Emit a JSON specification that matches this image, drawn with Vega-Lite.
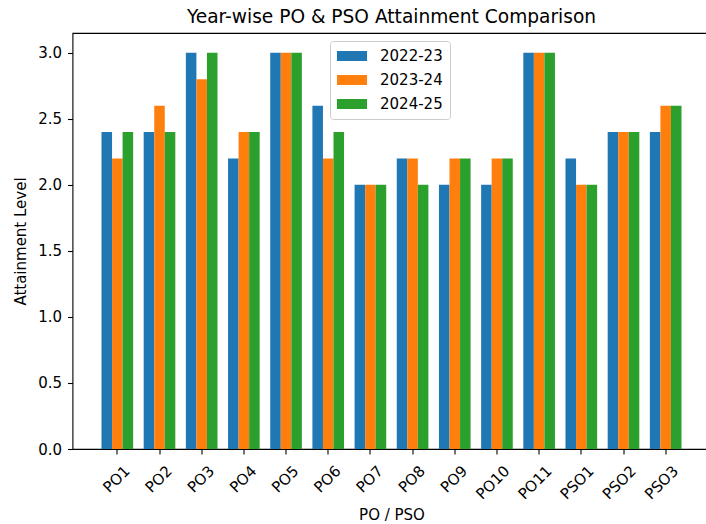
{
  "$schema": "https://vega.github.io/schema/vega-lite/v6.json",
  "autosize": {"type": "none"},
  "padding": {"left": 72.5, "top": 33, "right": 0, "bottom": 75},
  "width": 638,
  "height": 416,
  "background": "white",
  "title": {
    "text": "Year-wise PO & PSO Attainment Comparison",
    "font": "DejaVu Sans",
    "fontSize": 18.6,
    "fontWeight": "normal",
    "color": "black",
    "anchor": "middle",
    "baseline": "alphabetic",
    "offset": 8.5,
    "dy": 17
  },
  "config": {
    "view": {"stroke": "black", "strokeWidth": 1.1},
    "axis": {
      "labelFont": "DejaVu Sans",
      "titleFont": "DejaVu Sans",
      "labelFontSize": 15,
      "titleFontSize": 15,
      "titleFontWeight": "normal",
      "labelColor": "black",
      "titleColor": "black",
      "tickColor": "black",
      "tickSize": 5,
      "tickWidth": 1.1,
      "domain": false,
      "grid": false
    },
    "legend": {
      "labelFont": "DejaVu Sans",
      "labelFontSize": 15,
      "labelColor": "black"
    }
  },
  "data": {
    "values": [
      {"po": "PO1", "year": "2022-23", "value": 2.4},
      {"po": "PO1", "year": "2023-24", "value": 2.2},
      {"po": "PO1", "year": "2024-25", "value": 2.4},
      {"po": "PO2", "year": "2022-23", "value": 2.4},
      {"po": "PO2", "year": "2023-24", "value": 2.6},
      {"po": "PO2", "year": "2024-25", "value": 2.4},
      {"po": "PO3", "year": "2022-23", "value": 3.0},
      {"po": "PO3", "year": "2023-24", "value": 2.8},
      {"po": "PO3", "year": "2024-25", "value": 3.0},
      {"po": "PO4", "year": "2022-23", "value": 2.2},
      {"po": "PO4", "year": "2023-24", "value": 2.4},
      {"po": "PO4", "year": "2024-25", "value": 2.4},
      {"po": "PO5", "year": "2022-23", "value": 3.0},
      {"po": "PO5", "year": "2023-24", "value": 3.0},
      {"po": "PO5", "year": "2024-25", "value": 3.0},
      {"po": "PO6", "year": "2022-23", "value": 2.6},
      {"po": "PO6", "year": "2023-24", "value": 2.2},
      {"po": "PO6", "year": "2024-25", "value": 2.4},
      {"po": "PO7", "year": "2022-23", "value": 2.0},
      {"po": "PO7", "year": "2023-24", "value": 2.0},
      {"po": "PO7", "year": "2024-25", "value": 2.0},
      {"po": "PO8", "year": "2022-23", "value": 2.2},
      {"po": "PO8", "year": "2023-24", "value": 2.2},
      {"po": "PO8", "year": "2024-25", "value": 2.0},
      {"po": "PO9", "year": "2022-23", "value": 2.0},
      {"po": "PO9", "year": "2023-24", "value": 2.2},
      {"po": "PO9", "year": "2024-25", "value": 2.2},
      {"po": "PO10", "year": "2022-23", "value": 2.0},
      {"po": "PO10", "year": "2023-24", "value": 2.2},
      {"po": "PO10", "year": "2024-25", "value": 2.2},
      {"po": "PO11", "year": "2022-23", "value": 3.0},
      {"po": "PO11", "year": "2023-24", "value": 3.0},
      {"po": "PO11", "year": "2024-25", "value": 3.0},
      {"po": "PSO1", "year": "2022-23", "value": 2.2},
      {"po": "PSO1", "year": "2023-24", "value": 2.0},
      {"po": "PSO1", "year": "2024-25", "value": 2.0},
      {"po": "PSO2", "year": "2022-23", "value": 2.4},
      {"po": "PSO2", "year": "2023-24", "value": 2.4},
      {"po": "PSO2", "year": "2024-25", "value": 2.4},
      {"po": "PSO3", "year": "2022-23", "value": 2.4},
      {"po": "PSO3", "year": "2023-24", "value": 2.6},
      {"po": "PSO3", "year": "2024-25", "value": 2.6}
    ]
  },
  "mark": {"type": "bar"},
  "encoding": {
    "x": {
      "field": "po",
      "type": "nominal",
      "sort": null,
      "scale": {"paddingInner": 0.25, "paddingOuter": 0.6875},
      "axis": {
        "title": "PO / PSO",
        "labelAngle": -45,
        "labelAlign": "right",
        "labelBaseline": "middle",
        "labelOffset": 10,
        "labelPadding": 14,
        "titleY": 65,
        "titleBaseline": "middle"
      }
    },
    "xOffset": {
      "field": "year",
      "type": "nominal",
      "scale": {"paddingInner": 0, "paddingOuter": 0}
    },
    "y": {
      "field": "value",
      "type": "quantitative",
      "scale": {"domain": [0, 3.15], "nice": false, "zero": true},
      "axis": {
        "title": "Attainment Level",
        "values": [0, 0.5, 1, 1.5, 2, 2.5, 3],
        "format": ".1f",
        "labelPadding": 6,
        "titleX": -52,
        "titleBaseline": "middle"
      }
    },
    "color": {
      "field": "year",
      "type": "nominal",
      "scale": {
        "domain": ["2022-23", "2023-24", "2024-25"],
        "range": ["#1f77b4", "#ff7f0e", "#2ca02c"]
      },
      "legend": {
        "title": null,
        "orient": "none",
        "legendX": 257.5,
        "legendY": 8,
        "padding": 7,
        "symbolType": "M-1,-0.3333H1V0.3333H-1Z",
        "symbolSize": 900,
        "symbolStrokeWidth": 0,
        "clipHeight": 16,
        "rowPadding": 8,
        "labelOffset": 13,
        "strokeColor": "#cccccc",
        "fillColor": "rgba(255,255,255,0.8)",
        "cornerRadius": 3
      }
    }
  }
}
